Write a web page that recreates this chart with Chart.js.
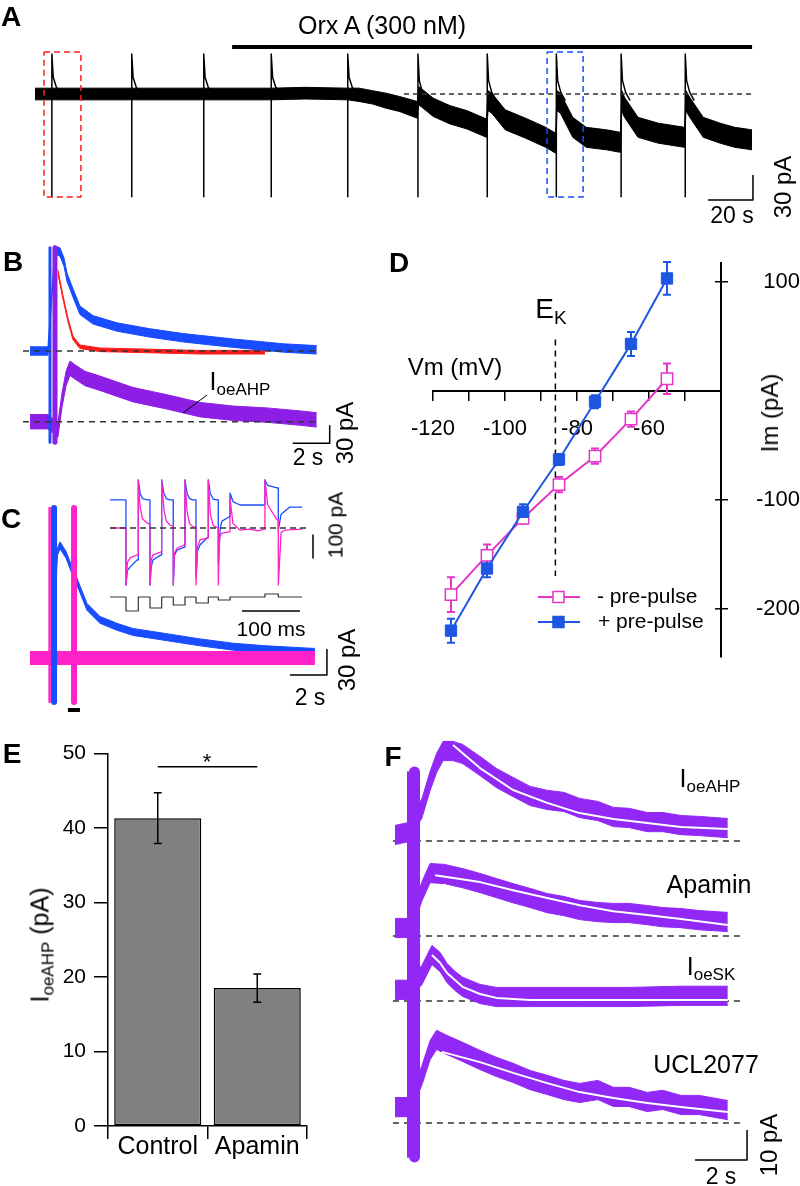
<!DOCTYPE html>
<html>
<head>
<meta charset="utf-8">
<script src="https://cdn.jsdelivr.net/npm/chart.js@4.4.0/dist/chart.umd.min.js"></script>
<style>
  body { margin: 0; background: #fff; }
  #fig { position: relative; width: 800px; height: 1186px; overflow: hidden; font-family: "Liberation Sans", Arial, Helvetica, sans-serif; color: #000; }
  .box { position: absolute; }
  .t { position: absolute; white-space: nowrap; line-height: 1; transform: translate(-50%, -50%); }
  .t.rot { transform: translate(-50%, -50%) rotate(-90deg); }
  .t.left { transform: translate(0, -50%); }
  .t.panel { font-weight: bold; font-size: 28px; }
  .sub { font-size: 0.68em; position: relative; top: 0.32em; }
</style>
</head>
<body>
<div id="fig">
  <div class="box" id="boxA"><canvas id="chartA"></canvas></div>
  <div class="box" id="boxB"><canvas id="chartB"></canvas></div>
  <div class="box" id="boxC"><canvas id="chartC"></canvas></div>
  <div class="box" id="boxCi"><canvas id="chartCi"></canvas></div>
  <div class="box" id="boxD"><canvas id="chartD"></canvas></div>
  <div class="box" id="boxE"><canvas id="chartE"></canvas></div>
  <div class="box" id="boxF"><canvas id="chartF"></canvas></div>

  <div class="t panel" style="left:11px;top:17px">A</div>
  <div class="t" style="left:382px;top:25px;font-size:25px">Orx A (300 nM)</div>
  <div class="t" style="left:732px;top:215px;font-size:23px">20 s</div>
  <div class="t rot" style="left:783px;top:187px;font-size:24px">30 pA</div>

  <div class="t panel" style="left:13px;top:262px">B</div>
  <div class="t" style="left:240px;top:381px;font-size:25px">I<span class="sub">oeAHP</span></div>
  <div class="t" style="left:308px;top:457px;font-size:23px">2 s</div>
  <div class="t rot" style="left:345px;top:433px;font-size:24px">30 pA</div>

  <div class="t panel" style="left:11px;top:519px">C</div>
  <div class="t rot" style="left:335px;top:525px;font-size:21px">100 pA</div>
  <div class="t" style="left:271px;top:628px;font-size:21px">100 ms</div>
  <div class="t" style="left:310px;top:697px;font-size:23px">2 s</div>
  <div class="t rot" style="left:347px;top:660px;font-size:24px">30 pA</div>

  <div class="t panel" style="left:399px;top:263px">D</div>
  <div class="t" style="left:551px;top:309px;font-size:28px">E<span class="sub">K</span></div>
  <div class="t" style="left:455px;top:367px;font-size:24px">Vm (mV)</div>
  <div class="t rot" style="left:770px;top:413px;font-size:24px">Im (pA)</div>
  <div class="t left" style="left:597px;top:595px;font-size:21px">- pre-pulse</div>
  <div class="t left" style="left:598px;top:620px;font-size:21px">+ pre-pulse</div>

  <div class="t panel" style="left:12px;top:754px">E</div>
  <div class="t rot" style="left:40px;top:945px;font-size:25px">I<span class="sub">oeAHP</span> (pA)</div>
  <div class="t" style="left:207px;top:762px;font-size:22px">*</div>

  <div class="t panel" style="left:393px;top:757px">F</div>
  <div class="t" style="left:710px;top:778px;font-size:25px">I<span class="sub">oeAHP</span></div>
  <div class="t" style="left:709px;top:884px;font-size:25px">Apamin</div>
  <div class="t" style="left:711px;top:966px;font-size:25px">I<span class="sub">oeSK</span></div>
  <div class="t" style="left:706px;top:1064px;font-size:25px">UCL2077</div>
  <div class="t" style="left:721px;top:1176px;font-size:23px">2 s</div>
  <div class="t rot" style="left:769px;top:1145px;font-size:24px">10 pA</div>
</div>

<script>
// ── Values ─────────────────────────────────────────────────────────────────

// A: holding current (pA, rel. to baseline) vs time (s), noise half-width
const aTime  = [0, 7.5, 43, 75, 105, 120, 139, 144, 150, 156, 162, 169.9, 170.5, 172, 177, 184.5, 192, 200.7, 201.3, 203,
                209, 218, 227, 231.4, 232, 233.5, 239, 245, 254, 260.2, 260.8, 262, 268, 277, 288.7, 289.3, 291, 297, 304.5, 311, 318.7];
const aMid   = [0, 0, 0, 0, 0, 1, 0, -1, -4, -8, -12, -19, -2, -5, -16, -25, -31, -41, -8, -11,
                -31, -41, -52, -59, -8, -11, -40, -52, -55, -58, -8, -16, -40, -47, -52, -8, -16, -40, -47, -52, -55];
const aNoise = [7, 7, 7, 7, 7, 7, 7, 8, 8, 9, 9, 10, 11, 11, 11, 11, 11, 11, 12, 12,
                12, 12, 12, 12, 12, 12, 12, 12, 12, 12, 12, 12, 12, 12, 12, 12, 12, 12, 12, 12, 12];
const aSpikesEarly = [7.5, 43, 75, 105, 139];
const aSpikesLate  = [170.2, 201, 231.7, 260.5, 289];
const aSpikeTop = 48, aSpikeBottom = -124;
const aDecayDt    = [0.6, 2, 4];
const aDecayEarly = [20, 8, 2];
const aDecayLate  = [16, 2, -8];
const aDrug = [87.6, 318.7];            // Orx A application (s)
const aBoxRed = [4, 20.4], aBoxBlue = [227.6, 243.6];

// B: single sweeps (s, pA)
const bBlueTime   = [0, 0.97, 1.35, 1.62, 1.84, 2.0, 2.32, 2.7, 3.4, 4.7, 6.5, 8.3, 11.0, 13.7, 15.5];
const bBlue       = [0, 0, 168, 165, 148, 123, 97, 68, 52, 40, 30, 22, 13, 5, 2];
const bRedTime    = [1.51, 1.78, 2.05, 2.32, 2.7, 3.78, 6.5, 9.2, 12.7];
const bRed        = [132, 90, 52, 22, 7, 2, 0, -2, -2];
const bPurpleTime = [0, 0.97, 1.51, 1.73, 1.95, 2.16, 2.43, 2.97, 3.78, 5.57, 7.4, 9.2, 11.0, 12.8, 14.6, 15.5];
const bPurple     = [0, 0, -14, 36, 72, 89, 83, 72, 64, 45, 33, 20, 14, 11, 6, 3];

// C: with / without pre-pulse (s, pA)
const cBlueTime = [0, 1.2, 1.48, 1.62, 1.95, 2.27, 2.54, 3.08, 3.78, 4.7, 5.57, 7.4, 9.2, 11.0, 12.8, 15.4];
const cBlue     = [0, 0, 122, 130, 119, 101, 88, 59, 44, 36, 30, 24, 18, 13, 10, 7];
const cPinkTime = [0, 15.4];
const cPink     = [0, 0];

// C inset: step currents (ms, pA) and voltage protocol (mV)
const ciBlueTime = [0, 27.5, 27.6, 30, 34.5, 46.6, 48.7, 48.8, 52, 56, 63.8, 68.9, 69, 71, 74, 88, 89, 89.1, 93, 97,
                    103.4, 109, 109.1, 111, 115.5, 128, 129.2, 129.3, 133, 137, 143, 148.2, 148.3, 151, 155, 169, 169.4, 169.5, 173, 178,
                    186.6, 186.7, 190, 193, 205, 206.8, 206.9, 212, 224, 267, 267.1, 272, 288, 290.1, 290.2, 295, 310, 331];
const ciBlue     = [122, 122, -248, -185, -170, -139, -139, 209, 150, 128, 122, 122, -248, -170, -139, -117, -117, 209, 150, 128,
                    122, 122, -248, -120, -96, -83, -83, 209, 150, 128, 122, 122, -212, -100, -74, -39, -39, 209, 150, 125,
                    122, -152, 0, 30, 48, 48, 152, 115, 100, 100, 209, 185, 174, 174, -9, 60, 91, 91];
const ciPinkTime = [0, 27.5, 27.6, 30, 34.5, 46.6, 48.7, 48.8, 52, 56, 63.8, 68.9, 69, 71, 74, 88, 89, 89.1, 93, 97,
                    103.4, 109, 109.1, 111, 115.5, 128, 129.2, 129.3, 133, 137, 143, 148.2, 148.3, 151, 155, 169, 169.4, 169.5, 173, 178,
                    186.6, 186.7, 189, 193, 205, 206.8, 206.9, 212, 224, 240, 255, 267, 267.1, 272, 288, 290.1, 290.2, 295, 301.7, 331];
const ciPink     = [0, 0, -248, -150, -130, -117, -117, 209, 90, 40, 22, 15, -248, -140, -117, -104, -104, 209, 80, 30,
                    13, 8, -248, -110, -87, -74, -74, 209, 70, 20, 5, 3, -248, -80, -52, -43, -43, 209, 60, 10,
                    0, -248, -40, -22, -17, -17, 130, 20, -9, -5, -12, -5, 209, 100, 35, 35, -248, -20, -9, -5];
const ciStepOn    = [27.6, 69, 109.1, 148.3, 186.7, 267.1];
const ciStepOff   = [48.8, 89.1, 129.3, 169.5, 206.9, 290.2];
const ciStepLevel = [-120, -105, -90, -80, -65, -35];
const ciHold = -50, ciEnd = 331;

// D: I-V relation (mV, pA, SEM)
const dVm       = [-115, -105, -95, -85, -75, -65, -55];
const dPlus     = [-220, -163, -111, -63, -10, 43, 103];
const dPlusErr  = [11, 8, 7, 5, 6, 11, 15];
const dMinus    = [-187, -151, -117, -86, -60, -26, 11];
const dMinusErr = [16, 10, 5, 7, 7, 7, 14];
const dEK = -86;

// E: IoeAHP amplitude (pA)
const eLabels = ['Control', 'Apamin'];
const eMeans  = [41.3, 18.5];
const eSem    = [3.4, 1.9];

// F: averaged IoeAHP components (s, pA) with exponential fits
const f1Time = [0, 0.54, 1.04, 1.35, 1.6, 1.85, 2.23, 2.6, 3.27, 3.9, 4.54, 5.2, 5.85, 6.5, 7.1, 7.8, 8.4, 9.0, 9.7, 10.3, 11.0, 11.7, 12.8];
const f1     = [2, 3, 11, 20, 26, 30, 30, 29, 25, 21, 18, 15, 13.7, 13, 11, 10, 8, 7.7, 6.3, 6.3, 5.3, 5, 4.3];
const f1FitTime = [2.23, 3.27, 4.54, 5.85, 7.1, 8.4, 9.7, 11.0, 12.8];
const f1Fit     = [32, 24.3, 17, 12.7, 9.3, 7.3, 6, 4.7, 4];
const f2Time = [0, 0.54, 1.04, 1.35, 1.9, 2.6, 3.27, 3.9, 4.54, 5.2, 5.85, 6.5, 7.1, 7.8, 8.4, 9.0, 9.7, 10.3, 11.0, 11.7, 12.8];
const f2     = [2.7, 2.7, 15, 21, 20.7, 19.3, 17.7, 16, 14.3, 12.7, 11, 10, 8.7, 8, 7.7, 7.7, 7, 6.3, 6, 5.3, 4.7];
const f2FitTime = [1.54, 3.27, 4.54, 5.85, 7.1, 8.4, 9.7, 11.0, 12.8];
const f2Fit     = [20.3, 18, 15.3, 12.7, 10.3, 8.3, 7, 5.7, 3.7];
const f3Time = [0, 0.54, 1.04, 1.23, 1.42, 1.73, 2.0, 2.3, 2.6, 3.27, 3.9, 5.2, 7.1, 9.0, 11.0, 12.8];
const f3     = [3.7, 3.7, 8.7, 12, 15.3, 13, 9.3, 6.7, 4.7, 2.3, 1.3, 1.3, 1.3, 1.3, 1.7, 1.7];
const f3FitTime = [1.42, 1.73, 2.0, 2.6, 3.27, 3.9, 5.2, 12.8];
const f3Fit     = [15.3, 12.7, 9.3, 4.7, 2.3, 1, 0.3, 0.3];
const f4Time = [0, 0.54, 1.04, 1.35, 1.6, 2.0, 2.6, 3.27, 3.9, 4.54, 5.2, 5.85, 6.5, 7.1, 7.8, 8.4, 9.0, 9.7, 10.3, 11.0, 11.7, 12.8];
const f4     = [5.3, 5.3, 16, 24.3, 27.7, 26, 23.7, 21, 18.7, 16.7, 14.3, 12.7, 11, 10, 11, 8.7, 8.7, 7, 7.7, 6, 6, 4.3];
const f4FitTime = [1.8, 3.27, 4.54, 5.85, 7.1, 8.4, 9.7, 11.0, 12.8];
const f4Fit     = [23.7, 20.3, 16.7, 13.3, 10.3, 8.3, 6.7, 5.3, 3.7];

// ── Colours ────────────────────────────────────────────────────────────────
const BLACK = '#000', DASH_GREY = '#333';
const RED = '#ff1a1a', BLUE = '#1a4cff', PURPLE = '#8c1ee6', VIOLET = '#9128f5';
const PINK = '#ff22c8', BLUE_D = '#1d56e0', PINK_D = '#e535c8';

Chart.defaults.font.family = '"Liberation Sans", Arial, Helvetica, sans-serif';
Chart.defaults.color = BLACK;

// ── Helpers ───────────────────────────────────────────────────────────────

function place(boxId, box) {
  const el = document.getElementById(boxId);
  el.style.left = box.left + 'px';
  el.style.top = box.top + 'px';
  el.style.width = box.width + 'px';
  el.style.height = box.height + 'px';
}

// scale limits so that value 0 lands at page pixel x0/y0 with kx/ky px per unit
function traceScales(box, map) {
  return {
    x: { type: 'linear', display: false, min: (box.left - map.x0) / map.kx, max: (box.left + box.width - map.x0) / map.kx },
    y: { type: 'linear', display: false, min: (map.y0 - box.top - box.height) / map.ky, max: (map.y0 - box.top) / map.ky },
  };
}

function pts(time, vals, offset = 0) {
  return time.map((t, i) => ({ x: t, y: vals[i] + offset }));
}

function line(data, color, width, order, dash) {
  return { data, borderColor: color, borderWidth: width, borderDash: dash || [], fill: false, pointRadius: 0, order };
}

// noisy trace drawn as a filled envelope
function band(time, mid, half, color, offset, order) {
  const h = i => (Array.isArray(half) ? half[i] : half);
  return [
    { data: time.map((t, i) => ({ x: t, y: offset + mid[i] + h(i) })), borderColor: color, backgroundColor: color,
      borderWidth: 1, fill: '+1', pointRadius: 0, order },
    { data: time.map((t, i) => ({ x: t, y: offset + mid[i] - h(i) })), borderColor: color,
      borderWidth: 1, fill: false, pointRadius: 0, order },
  ];
}

function scaleBar(tEnd, yCorner, dt, dy, order = 0) {
  return line([{ x: tEnd - dt, y: yCorner }, { x: tEnd, y: yCorner }, { x: tEnd, y: yCorner + dy }], BLACK, 1.5, order);
}

function vbar(t, top, bottom, color, width, order) {
  return line([{ x: t, y: top }, { x: t, y: bottom }], color, width, order);
}

function traceChart(canvasId, boxId, box, map, datasets, extraScales) {
  place(boxId, box);
  return new Chart(document.getElementById(canvasId), {
    type: 'line',
    data: { datasets },
    options: {
      animation: false, responsive: true, maintainAspectRatio: false, events: [],
      layout: { padding: 0 },
      plugins: { legend: { display: false }, tooltip: { enabled: false } },
      elements: { line: { tension: 0, borderJoinStyle: 'round' }, point: { radius: 0 } },
      scales: Object.assign(traceScales(box, map), extraScales || {}),
    },
  });
}

// ── A: time course ────────────────────────────────────────────────────────

const spikePts = [];
[[aSpikesEarly, aDecayEarly], [aSpikesLate, aDecayLate]].forEach(([times, decay]) => {
  times.forEach(ts => {
    spikePts.push({ x: ts, y: aSpikeBottom }, { x: ts, y: aSpikeTop });
    aDecayDt.forEach((dt, k) => spikePts.push({ x: ts + dt, y: decay[k] }));
    spikePts.push({ x: ts + 5, y: null });
  });
});
const rectPts = (span, top, bottom) => [
  { x: span[0], y: top }, { x: span[1], y: top }, { x: span[1], y: bottom }, { x: span[0], y: bottom }, { x: span[0], y: top },
];

traceChart('chartA', 'boxA', { left: 0, top: 0, width: 800, height: 240 }, { x0: 35, kx: 2.25, y0: 94, ky: 0.8333 }, [
  line(rectPts(aBoxRed, 50.4, -123.6), RED, 1.5, 0, [6, 4]),
  line(rectPts(aBoxBlue, 50.4, -123.6), BLUE, 1.5, 0, [6, 4]),
  line([{ x: aDrug[0], y: 56.4 }, { x: aDrug[1], y: 56.4 }], BLACK, 4, 0),
  line([{ x: 164, y: 0 }, { x: aDrug[1], y: 0 }], DASH_GREY, 1.5, 1, [5, 4]),
  scaleBar(319.1, -127.2, 20, 30),
  line(spikePts, BLACK, 1.5, 2),
  ...band(aTime, aMid, aNoise, BLACK, 0, 3),
]);

// ── B: current sweeps ─────────────────────────────────────────────────────

const B_PURPLE_OFFSET = -117.8;
traceChart('chartB', 'boxB', { left: 15, top: 235, width: 345, height: 225 }, { x0: 30, kx: 18.5, y0: 351, ky: 0.6 }, [
  line([{ x: -0.38, y: 0 }, { x: 15.6, y: 0 }], DASH_GREY, 1.5, 0, [6, 5]),
  line([{ x: -0.38, y: B_PURPLE_OFFSET }, { x: 15.6, y: B_PURPLE_OFFSET }], DASH_GREY, 1.5, 0, [6, 5]),
  scaleBar(16.2, -153.8, 2, 30),
  line([{ x: 9.57, y: -73.3 }, { x: 8.27, y: -103.3 }], BLACK, 1, 0),
  vbar(1.35, 172, -152, PURPLE, 5, 1),
  vbar(1.08, 172, -152, BLUE, 3, 2),
  ...band(bBlueTime, bBlue, 7, BLUE, 0, 3),
  ...band(bRedTime, bRed, 3, RED, 0, 4),
  ...band(bPurpleTime, bPurple, 12, PURPLE, B_PURPLE_OFFSET, 5),
]);

// ── C: pre-pulse comparison ───────────────────────────────────────────────

traceChart('chartC', 'boxC', { left: 15, top: 470, width: 345, height: 250 }, { x0: 30, kx: 18.5, y0: 658, ky: 0.867 }, [
  scaleBar(16.05, -19.6, 2, 30),
  line([{ x: 2.05, y: -60 }, { x: 2.7, y: -60 }], BLACK, 4, 0),
  vbar(2.38, 173, -50.7, PINK, 6, 1),
  vbar(1.3, 173, -50.7, BLUE, 6, 1),
  vbar(1.06, 173, -50.7, PINK, 2.5, 4),
  ...band(cPinkTime, cPink, 7.5, PINK, 0, 2),
  ...band(cBlueTime, cBlue, 4, BLUE, 0, 3),
]);

const protoPts = [{ x: 0, y: ciHold }];
ciStepOn.forEach((on, i) => {
  protoPts.push({ x: on, y: ciHold }, { x: on, y: ciStepLevel[i] },
                { x: ciStepOff[i], y: ciStepLevel[i] }, { x: ciStepOff[i], y: ciHold });
});
protoPts.push({ x: ciEnd, y: ciHold });

const ciBox = { left: 100, top: 465, width: 260, height: 170 };
traceChart('chartCi', 'boxCi', ciBox, { x0: 110, kx: 0.58, y0: 528, ky: 0.23 }, [
  line([{ x: 0, y: 0 }, { x: 340, y: 0 }], DASH_GREY, 1.5, 0, [6, 4]),
  line([{ x: 227.6, y: -361 }, { x: 327.6, y: -361 }], BLACK, 1.5, 0),
  line([{ x: 350, y: -30.4 }, { x: 350, y: -130.4 }], BLACK, 1.5, 0),
  line(pts(ciPinkTime, ciPink), PINK, 1.3, 1),
  line(pts(ciBlueTime, ciBlue), BLUE, 1.3, 2),
  Object.assign(line(protoPts, '#333', 1.2, 3), { yAxisID: 'y2' }),
], {
  y2: { type: 'linear', display: false,
        min: ciHold - (ciBox.top + ciBox.height - 597) / 0.2, max: ciHold + (597 - ciBox.top) / 0.2 },
});

// ── D: I-V plot ───────────────────────────────────────────────────────────

const dDecor = {
  id: 'dDecor',
  beforeDatasetsDraw(chart) {
    const { ctx, scales: { x, y } } = chart;
    ctx.save();
    ctx.lineWidth = 2;
    [[dMinus, dMinusErr, PINK_D], [dPlus, dPlusErr, BLUE_D]].forEach(([vals, errs, color]) => {
      ctx.strokeStyle = color;
      vals.forEach((v, i) => {
        const px = x.getPixelForValue(dVm[i]);
        const top = y.getPixelForValue(v + errs[i]);
        const bot = y.getPixelForValue(v - errs[i]);
        ctx.beginPath();
        ctx.moveTo(px, top); ctx.lineTo(px, bot);
        ctx.moveTo(px - 4, top); ctx.lineTo(px + 4, top);
        ctx.moveTo(px - 4, bot); ctx.lineTo(px + 4, bot);
        ctx.stroke();
      });
    });
    ctx.restore();
  },
  afterDraw(chart) {
    const { ctx, scales: { y }, chartArea } = chart;
    ctx.save();
    // inner half of the crossing ticks on the Im axis
    ctx.strokeStyle = BLACK; ctx.lineWidth = 1.5;
    y.ticks.forEach(t => {
      if (t.value === 0) return;
      const py = y.getPixelForValue(t.value);
      ctx.beginPath(); ctx.moveTo(chartArea.right - 6, py); ctx.lineTo(chartArea.right, py); ctx.stroke();
    });
    // legend samples
    [[357, PINK_D, '#fff'], [382, BLUE_D, BLUE_D]].forEach(([ly, stroke, fillCol]) => {
      ctx.strokeStyle = stroke; ctx.lineWidth = 2;
      ctx.beginPath(); ctx.moveTo(148, ly); ctx.lineTo(190, ly); ctx.stroke();
      ctx.fillStyle = fillCol; ctx.lineWidth = 1.5;
      ctx.fillRect(163, ly - 5.5, 11, 11); ctx.strokeRect(163, ly - 5.5, 11, 11);
    });
    ctx.restore();
  },
};

place('boxD', { left: 390, top: 240, width: 410, height: 440 });
new Chart(document.getElementById('chartD'), {
  type: 'line',
  data: {
    datasets: [
      { label: '+ pre-pulse', data: pts(dVm, dPlus), borderColor: BLUE_D, backgroundColor: BLUE_D, borderWidth: 2,
        pointStyle: 'rect', pointRadius: 8, pointBorderWidth: 1, order: 1 },
      { label: '- pre-pulse', data: pts(dVm, dMinus), borderColor: PINK_D, backgroundColor: '#fff', borderWidth: 2,
        pointStyle: 'rect', pointRadius: 8, pointBorderWidth: 1.5, order: 2 },
      line([{ x: dEK, y: 47 }, { x: dEK, y: -170 }], BLACK, 1.5, 3, [6, 5]),
    ],
  },
  options: {
    animation: false, responsive: true, maintainAspectRatio: false, events: [],
    layout: { padding: { left: 43, top: 22, bottom: 15, right: 0 } },
    plugins: { legend: { display: false }, tooltip: { enabled: false } },
    elements: { line: { tension: 0 } },
    scales: {
      x: {
        type: 'linear', min: -120, max: -40, position: { y: 0 },
        ticks: { stepSize: 10, padding: 16, font: { size: 22 }, maxRotation: 0, autoSkip: false,
                 callback: v => (v % 20 === 0 && v !== -40 ? String(v) : '') },
        grid: { drawOnChartArea: false, tickLength: 9, color: BLACK, lineWidth: 1.5 },
        border: { color: BLACK, width: 2 },
      },
      y: {
        type: 'linear', position: 'right', min: -244, max: 117,
        ticks: { stepSize: 100, includeBounds: false, crossAlign: 'far', padding: 10, font: { size: 22 },
                 callback: v => (v === 0 ? '' : String(v)) },
        grid: { drawOnChartArea: false, tickLength: 7, lineWidth: 1.5,
                color: c => (c.tick && c.tick.value === 0 ? 'rgba(0,0,0,0)' : BLACK) },
        border: { color: BLACK, width: 2 },
        afterFit: s => { s.width = 79; },
      },
    },
  },
  plugins: [dDecor],
});

// ── E: bar chart ──────────────────────────────────────────────────────────

const E_SIG_LEVEL = 48.2;
const eDecor = {
  id: 'eDecor',
  afterDatasetsDraw(chart) {
    const { ctx, scales: { x, y } } = chart;
    ctx.save();
    ctx.strokeStyle = BLACK; ctx.lineWidth = 1.5;
    eMeans.forEach((m, i) => {
      const px = x.getPixelForValue(i);
      const top = y.getPixelForValue(m + eSem[i]);
      const bot = y.getPixelForValue(m - eSem[i]);
      ctx.beginPath();
      ctx.moveTo(px, top); ctx.lineTo(px, bot);
      ctx.moveTo(px - 4, top); ctx.lineTo(px + 4, top);
      ctx.moveTo(px - 4, bot); ctx.lineTo(px + 4, bot);
      ctx.stroke();
    });
    const ys = y.getPixelForValue(E_SIG_LEVEL);
    ctx.beginPath(); ctx.moveTo(x.getPixelForValue(0), ys); ctx.lineTo(x.getPixelForValue(1), ys); ctx.stroke();
    ctx.restore();
  },
};

place('boxE', { left: 0, top: 700, width: 390, height: 486 });
new Chart(document.getElementById('chartE'), {
  type: 'bar',
  data: {
    labels: eLabels,
    datasets: [{ data: eMeans, backgroundColor: '#808080', borderColor: BLACK, borderWidth: 1.5, borderSkipped: false,
                 categoryPercentage: 1, barPercentage: 0.875 }],
  },
  options: {
    animation: false, responsive: true, maintainAspectRatio: false, events: [],
    layout: { padding: { left: 0, top: 53.3, right: 83, bottom: 0 } },
    plugins: { legend: { display: false }, tooltip: { enabled: false } },
    scales: {
      x: {
        grid: { offset: true, drawOnChartArea: false, tickLength: 13, color: BLACK, lineWidth: 1.5 },
        ticks: { font: { size: 25 }, padding: -7, maxRotation: 0, autoSkip: false },
        border: { color: BLACK, width: 1.5 },
        afterFit: s => { s.height = 60; },
      },
      y: {
        min: 0, max: 50,
        ticks: { stepSize: 10, font: { size: 21 }, padding: 8 },
        grid: { drawOnChartArea: false, tickLength: 14, color: BLACK, lineWidth: 1.5 },
        border: { color: BLACK, width: 1.5 },
        afterFit: s => { s.width = 108; },
      },
    },
  },
  plugins: [eDecor],
});

// ── F: averaged components with fits ──────────────────────────────────────

const F_OFFSETS = [94, 62.3, 40.7, 0];
const fTraces = [[f1Time, f1, f1FitTime, f1Fit], [f2Time, f2, f2FitTime, f2Fit],
                 [f3Time, f3, f3FitTime, f3Fit], [f4Time, f4, f4FitTime, f4Fit]];
const fSets = [scaleBar(13.54, -12.3, 2, 10), vbar(0.75, 117, -11.3, VIOLET, 11, 2), vbar(0.5, 117, -11.3, VIOLET, 2, 2)];
fTraces.forEach(([t, v, ft, fv], i) => {
  const off = F_OFFSETS[i];
  fSets.push(line(pts(ft, fv, off), '#ffffff', 2, 0));
  fSets.push(...band(t, v, 3.2, VIOLET, off, 1));
  fSets.push(line([{ x: -0.08, y: off }, { x: 13.3, y: off }], DASH_GREY, 1.5, 3, [6, 5]));
});
traceChart('chartF', 'boxF', { left: 385, top: 690, width: 415, height: 496 }, { x0: 395, kx: 26, y0: 1123, ky: 3 }, fSets);
</script>
</body>
</html>
